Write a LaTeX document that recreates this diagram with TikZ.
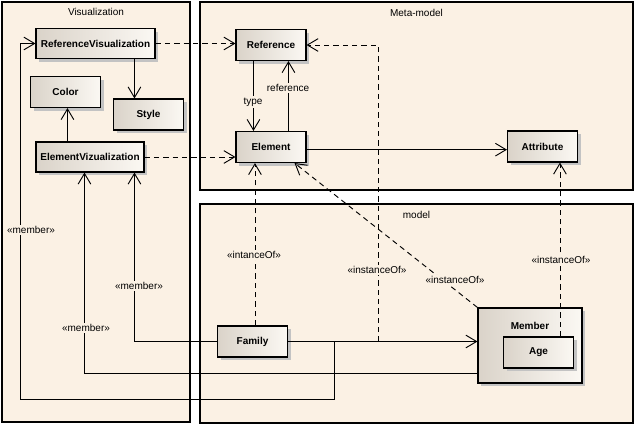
\documentclass[tikz,border=0pt]{standalone}
\usepackage{fontspec}
\setmainfont{Liberation Sans}
\usetikzlibrary{arrows.meta,shadows}

\definecolor{pkgfill}{RGB}{251,241,228}
\definecolor{clsdark}{RGB}{218,211,201}
\definecolor{clslight}{RGB}{251,248,243}
\definecolor{shadowgray}{RGB}{195,195,195}

\tikzset{
  pkg/.style={draw, line width=0.8pt, fill=pkgfill},
  pkgtitle/.style={anchor=north, font=\fontsize{7.5}{9}\selectfont, inner sep=1pt},
  cls/.style={draw, line width=0.8pt, left color=clsdark, right color=clslight,
    drop shadow={shadow xshift=2.5pt, shadow yshift=-2.5pt, fill=shadowgray, opacity=1},
    font=\bfseries\fontsize{7.5}{9}\selectfont,
    minimum width=52.5pt, minimum height=23.25pt, inner sep=1pt},
  lbl/.style={fill=pkgfill, font=\fontsize{7.5}{9}\selectfont, inner sep=1pt},
  assoc/.style={line width=0.7pt, -{Straight Barb[length=8pt,width=9.5pt,line width=0.7pt]}},
  dep/.style={assoc, dash pattern=on 4pt off 3pt},
  wire/.style={line width=0.7pt}
}

\begin{document}
\begin{tikzpicture}[x=0.75pt, y=-0.75pt]
  \useasboundingbox (0,0) rectangle (635,426);

  % 包
  \node[pkg, minimum width=141pt, minimum height=315pt] (vis) at (96,212) {};
  \node[pkgtitle] (visT) at ([yshift=-4pt]vis.north) {Visualization};
  \node[pkg, minimum width=324.75pt, minimum height=141pt] (meta) at (416.5,96) {};
  \node[pkgtitle] (metaT) at ([yshift=-5pt]meta.north) {Meta-model};
  \node[pkg, minimum width=324.75pt, minimum height=164.25pt] (model) at (416.5,313.5) {};
  \node[pkgtitle] (modelT) at ([yshift=-4.5pt]model.north) {model};

  % 类
  \node[cls, minimum width=89.25pt, minimum height=22.5pt] (refVis) at (95.5,43.5) {ReferenceVisualization};
  \node[cls] (color) at (65.5,92) {Color};
  \node[cls] (style) at (148.5,114.5) {Style};
  \node[cls, minimum width=81pt, minimum height=22.5pt] (elemVis) at (90,157) {ElementVizualization};
  \node[cls] (reference) at (271,45) {Reference};
  \node[cls] (element) at (271,147) {Element};
  \node[cls] (attribute) at (542.5,146.5) {Attribute};
  \node[cls] (family) at (252.5,341.5) {Family};
  \node[cls, minimum width=78pt, minimum height=56.25pt] (member) at (530,345.5) {};
  \node[font=\bfseries\fontsize{7.5}{9}\selectfont, anchor=north] (memberT) at ([yshift=-7.5pt]member.north) {Member};
  \node[cls] (age) at (538.5,352.5) {Age};

  % 可视化内部
  \draw[dep] (refVis.east) -- (refVis.east -| reference.west);
  \draw[assoc] ([xshift=74.25pt]refVis.south west) -- ([xshift=74.25pt]refVis.south west |- style.north);
  \draw[assoc] ([xshift=24pt]elemVis.north west) -- ([xshift=24pt]elemVis.north west |- color.south);
  \draw[dep] (elemVis.east) -- (elemVis.east -| element.west);

  % 元模型
  \draw[assoc] ([xshift=13.5pt]reference.south west) -- ([xshift=13.5pt]reference.south west |- element.north);
  \node[lbl] (lblType) at (253,102) {type};
  \draw[assoc] ([xshift=39.75pt]element.north west) -- ([xshift=39.75pt]element.north west |- reference.south);
  \node[lbl] (lblRef) at (288,88) {reference};
  \draw[assoc] ([yshift=-2pt]element.east) -- ([yshift=-2pt]element.east -| attribute.west);

  % 模型: 关联 Family -> Member
  \draw[assoc] (family.east) -- (family.east -| member.west);
  \coordinate (asc1) at ([xshift=67.5pt]family.east);
  \coordinate (asc2) at ([xshift=34.5pt]family.east);

  % instanceOf
  \draw[dep] ([xshift=28.5pt]family.north west) -- ([xshift=28.5pt]family.north west |- element.south);
  \node[lbl] (lblInst1) at (254,255) {«intanceOf»};
  \draw[dep] (asc1) |- (reference.east);
  \node[lbl] (lblInst2) at (377,270) {«instanceOf»};
  \draw[dep] (member.north west) -- ([xshift=-9pt]element.south east);
  \node[lbl] (lblInst3) at (455,280) {«instanceOf»};
  \draw[dep] ([xshift=42.75pt]age.north west) -- ([xshift=42.75pt]age.north west |- attribute.south);
  \node[lbl] (lblInst4) at (561,260) {«instanceOf»};

  % member
  \draw[assoc] (family.west) -| ([xshift=74.25pt]elemVis.south west);
  \node[lbl] (lblMem1) at (139,286) {«member»};
  \draw[assoc] ([yshift=7.5pt]member.south west) -| ([xshift=36.75pt]elemVis.south west);
  \node[lbl] (lblMem2) at (86,328) {«member»};
  \draw[assoc] (asc2) |- (20,399) |- (refVis.west);
  \node[lbl] (lblMem3) at (31,230) {«member»};
\end{tikzpicture}
\end{document}
